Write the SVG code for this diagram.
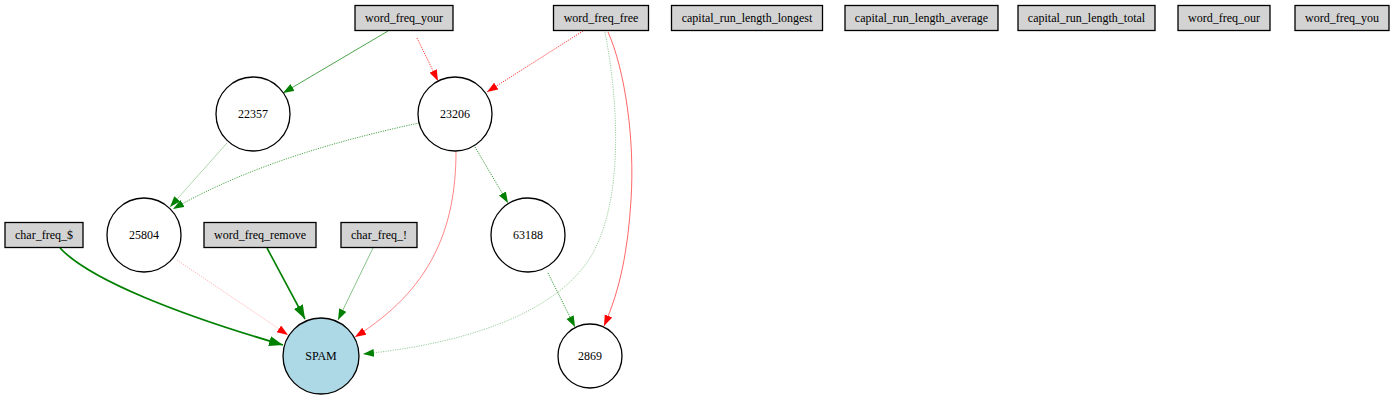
<svg xmlns="http://www.w3.org/2000/svg" width="1396" height="400" viewBox="0 0 1396 400">
<style>
text{font-family:"Liberation Serif","Times New Roman",serif;font-size:12px;fill:#000;text-anchor:middle}
.box{fill:#d3d3d3;stroke:#000;stroke-width:1.3}
.circ{fill:#fff;stroke:#000;stroke-width:1.3}
.spam{fill:#add8e6;stroke:#000;stroke-width:1.3}
.e{fill:none}
.g{stroke:#008000}
.r{stroke:#ff0000}
.dot{stroke-dasharray:1.2,1.2}
</style>
<defs>
<marker id="ag" markerUnits="userSpaceOnUse" markerWidth="13" markerHeight="10" refX="11" refY="4" orient="auto"><polygon points="0,0 11,4 0,8" fill="#008000"/></marker>
<marker id="ar" markerUnits="userSpaceOnUse" markerWidth="13" markerHeight="10" refX="11" refY="4" orient="auto"><polygon points="0,0 11,4 0,8" fill="#ff0000"/></marker>
<marker id="agb" markerUnits="userSpaceOnUse" markerWidth="16" markerHeight="12" refX="14" refY="5" orient="auto"><polygon points="0,0 14,5 0,10" fill="#008000"/></marker>
</defs>
<g id="edges">
<path class="e g" stroke-width="1" stroke-opacity="0.7" d="M388,31 L283,93" marker-end="url(#ag)"/>
<path class="e r dot" stroke-width="1" stroke-opacity="0.8" d="M417,38 L438,81" marker-end="url(#ar)"/>
<path class="e r dot" stroke-width="1" stroke-opacity="0.8" d="M583,31 L487,92" marker-end="url(#ar)"/>
<path class="e g dot" stroke-width="1" stroke-opacity="0.4" d="M605,32 C618,100 625,200 590,258 C550,320 450,345 363,354" marker-end="url(#ag)"/>
<path class="e r" stroke-width="1" stroke-opacity="0.6" d="M608,32 C625,70 635,140 631,200 C628,250 620,290 604,326" marker-end="url(#ar)"/>
<path class="e g dot" stroke-width="1" stroke-opacity="0.7" d="M419,123 C340,140 250,165 173,209" marker-end="url(#ag)"/>
<path class="e g" stroke-width="0.8" stroke-opacity="0.4" d="M227,143 L170,207" marker-end="url(#ag)"/>
<path class="e g dot" stroke-width="1" stroke-opacity="0.8" d="M475,147 L508,203" marker-end="url(#ag)"/>
<path class="e r" stroke-width="0.8" stroke-opacity="0.6" d="M456,151 C456,230 430,290 355,337" marker-end="url(#ar)"/>
<path class="e g dot" stroke-width="1" stroke-opacity="0.8" d="M548,273 L575,327" marker-end="url(#ag)"/>
<path class="e r dot" stroke-width="1" stroke-opacity="0.3" d="M177,260 L288,335" marker-end="url(#ar)"/>
<path class="e g" stroke-width="1.8" d="M60,248 C90,280 180,315 283,345" marker-end="url(#agb)"/>
<path class="e g" stroke-width="1.6" d="M267,248 L305,319" marker-end="url(#agb)"/>
<path class="e g" stroke-width="0.8" stroke-opacity="0.6" d="M373,248 L338,320" marker-end="url(#ag)"/>
</g>
<g id="word_freq_your"><rect class="box" x="355" y="5.5" width="98" height="25"/><text x="404" y="22">word_freq_your</text></g>
<g id="word_freq_free"><rect class="box" x="553.5" y="5.5" width="95" height="25"/><text x="601" y="22">word_freq_free</text></g>
<g id="capital_run_length_longest"><rect class="box" x="671.5" y="5.5" width="151" height="25"/><text x="747" y="22">capital_run_length_longest</text></g>
<g id="capital_run_length_average"><rect class="box" x="845" y="5.5" width="153" height="25"/><text x="921.5" y="22">capital_run_length_average</text></g>
<g id="capital_run_length_total"><rect class="box" x="1018" y="5.5" width="137" height="25"/><text x="1086.5" y="22">capital_run_length_total</text></g>
<g id="word_freq_our"><rect class="box" x="1178" y="5.5" width="92" height="25"/><text x="1224" y="22">word_freq_our</text></g>
<g id="word_freq_you"><rect class="box" x="1295" y="5.5" width="94" height="25"/><text x="1342" y="22">word_freq_you</text></g>
<g id="n22357"><circle class="circ" cx="253" cy="114" r="37"/><text x="253" y="118">22357</text></g>
<g id="n23206"><circle class="circ" cx="455" cy="114" r="37"/><text x="455" y="118">23206</text></g>
<g id="n25804"><circle class="circ" cx="144" cy="235" r="37"/><text x="144" y="239">25804</text></g>
<g id="n63188"><circle class="circ" cx="528" cy="235" r="37"/><text x="528" y="239">63188</text></g>
<g id="n2869"><circle class="circ" cx="590" cy="356" r="32"/><text x="590" y="360">2869</text></g>
<g id="char_freq_dollar"><rect class="box" x="5" y="222.5" width="78" height="25"/><text x="44" y="239">char_freq_$</text></g>
<g id="word_freq_remove"><rect class="box" x="204" y="222.5" width="112" height="25"/><text x="260" y="239">word_freq_remove</text></g>
<g id="char_freq_excl"><rect class="box" x="341" y="222.5" width="76" height="25"/><text x="379" y="239">char_freq_!</text></g>
<g id="SPAM"><circle class="spam" cx="321" cy="356" r="38"/><text x="321" y="360">SPAM</text></g>
</svg>
